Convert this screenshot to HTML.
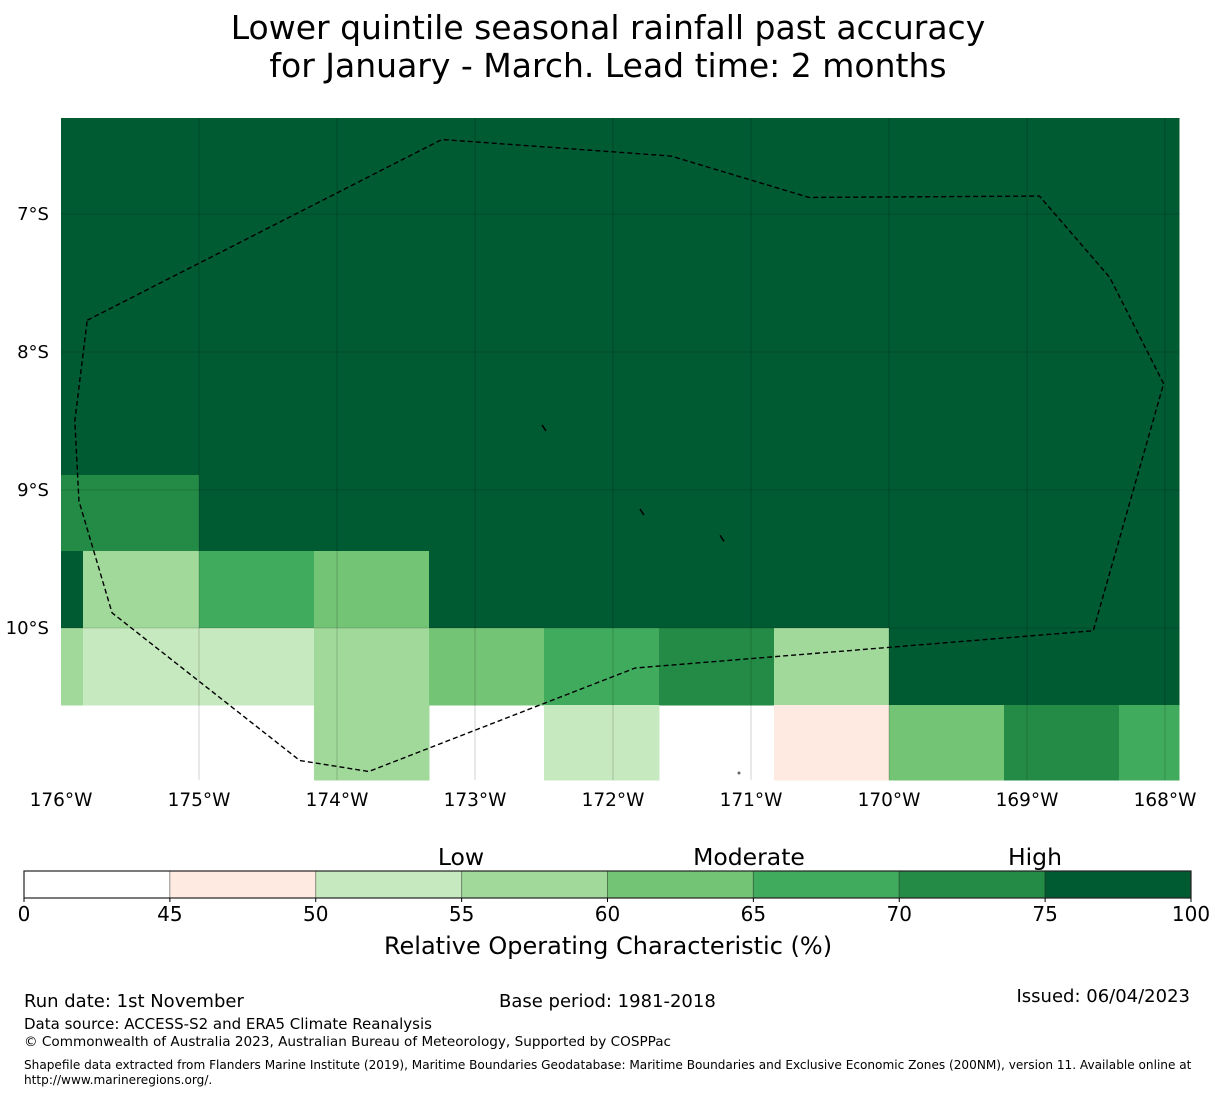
<!DOCTYPE html>
<html><head><meta charset="utf-8"><style>
body{margin:0;background:#fff;font-family:"DejaVu Sans","Liberation Sans",sans-serif;}
svg text{font-family:"DejaVu Sans","Liberation Sans",sans-serif;}
</style></head><body>
<svg id="c" width="1215" height="1095" xmlns="http://www.w3.org/2000/svg">
<text x="608" y="39" font-size="33" text-anchor="middle">Lower quintile seasonal rainfall past accuracy</text>
<text x="608" y="77" font-size="33" text-anchor="middle">for January - March. Lead time: 2 months</text>
<g id="map"></g>
<g id="cbar"></g>
<text x="608" y="954" font-size="24" text-anchor="middle">Relative Operating Characteristic (%)</text>
<text x="24" y="1007" font-size="18">Run date: 1st November</text>
<text x="499" y="1007" font-size="18">Base period: 1981-2018</text>
<text x="1190" y="1002" font-size="18" text-anchor="end">Issued: 06/04/2023</text>
<text x="24" y="1029" font-size="15">Data source: ACCESS-S2 and ERA5 Climate Reanalysis</text>
<text x="24" y="1046" font-size="13.6">© Commonwealth of Australia 2023, Australian Bureau of Meteorology, Supported by COSPPac</text>
<text x="24" y="1069" font-size="12.1">Shapefile data extracted from Flanders Marine Institute (2019), Maritime Boundaries Geodatabase: Maritime Boundaries and Exclusive Economic Zones (200NM), version 11. Available online at</text>
<text x="24" y="1084" font-size="12.1">http://www.marineregions.org/.</text>
</svg>
<script>
const NS="http://www.w3.org/2000/svg";
// colour classes (ROC bins)
const binEdges=[0,45,50,55,60,65,70,75,100];
const binColors=["#ffffff","#feeae0","#c7e9c0","#a1d99b","#74c476","#41ab5d","#238b45","#005a32"];
const categoryLabels=["Low","Moderate","High"];
const categoryPos=[55,65,75];
// grid cells: lon west edges (°W) and lat rows (°S top); values are ROC %
const colLonW=[176,175.84,175,174.17,173.33,172.5,171.67,170.83,170,169.17,168.33];
const colLonE=[175.84,175,174.17,173.33,172.5,171.67,170.83,170,169.17,168.33,167.9];
const rowLatTop=[6.3,8.89,9.44,10.0,10.56];
const rowLatBot=[8.89,9.44,10.0,10.56,11.1];
const rowVals=[
 [80,80,80,80,80,80,80,80,80,80,80],
 [72,72,80,80,80,80,80,80,80,80,80],
 [80,57,67,62,80,80,80,80,80,80,80],
 [57,52,52,57,62,67,72,57,80,80,80],
 [null,null,null,57,null,52,null,47,62,72,67]
];
const lonTicks=[176,175,174,173,172,171,170,169,168];
const latTicks=[7,8,9,10];
const eezLon=[175.81,173.24,171.58,170.58,168.91,168.4,168.01,168.52,171.84,173.77,174.27,175.63,175.87,175.9,175.81];
const eezLat=[7.77,6.46,6.58,6.88,6.87,7.46,8.23,10.02,10.29,11.04,10.96,9.89,9.08,8.5,7.77];
const islands=[[172.5,8.55],[171.79,9.16],[171.21,9.35]];

const x0=61,x1=1179,yTop=118,yBot=780;
const sx=lon=>61+(176-lon)*138;
const sy=lat=>214+(lat-7)*138;
const colorOf=v=>{for(let i=0;i<binEdges.length-1;i++){if(v>=binEdges[i]&&v<binEdges[i+1])return binColors[i];}return binColors[binColors.length-1];};
const map=document.getElementById('map');
function mk(tag,attrs,parent){const e=document.createElementNS(NS,tag);for(const k in attrs)e.setAttribute(k,attrs[k]);parent.appendChild(e);return e;}
rowVals.forEach((row,ri)=>{row.forEach((v,ci)=>{
  if(v===null)return;
  const xa=Math.round(Math.max(x0,sx(colLonW[ci]))),xb=Math.round(Math.min(x1,sx(colLonE[ci])));
  const ya=Math.round(Math.max(yTop,sy(rowLatTop[ri]))),yb=Math.round(Math.min(yBot,sy(rowLatBot[ri])));
  const r=mk('rect',{x:xa,y:ya,width:xb-xa+0.5,height:yb-ya+0.5,fill:colorOf(v),'shape-rendering':'crispEdges'},map);
  
  
});});
lonTicks.forEach(l=>{
  const x=sx(l);
  if(x>x0&&x<x1){const g=mk('line',{x1:x,y1:yTop,x2:x,y2:yBot,stroke:'#000','stroke-opacity':0.3,'stroke-width':0.6},map);
  }
  const t=mk('text',{x:x,y:806,'font-size':18.5,'text-anchor':'middle'},map);t.textContent=l+'°W';
  
});
latTicks.forEach(l=>{
  const y=sy(l);
  const g=mk('line',{x1:x0,y1:y,x2:x1,y2:y,stroke:'#000','stroke-opacity':0.3,'stroke-width':0.6},map);
  
  const t=mk('text',{x:49,y:y+6,'font-size':18,'text-anchor':'end'},map);t.textContent=l+'°S';
  
});
const pts=eezLon.map((l,i)=>sx(l)+','+sy(eezLat[i])).join(' ');
const eez=mk('polyline',{points:pts,fill:'none',stroke:'#000','stroke-width':1.4,'stroke-dasharray':'5,3'},map);

islands.forEach(p=>{const x=sx(p[0]),y=sy(p[1]);
  const il=mk('line',{x1:x-2,y1:y-3,x2:x+2,y2:y+3,stroke:'#000','stroke-width':1.5},map);
  });
const dot=mk('circle',{cx:739,cy:773,r:1.5,fill:'#666'},map);


// colorbar
const cb=document.getElementById('cbar');
const cbX=24,cbW=1167,cbY=871,cbH=27,n=binColors.length,segW=cbW/n;
binColors.forEach((c,i)=>{
  const r=mk('rect',{x:cbX+i*segW,y:cbY,width:segW,height:cbH,fill:c,stroke:'#000','stroke-opacity':0.3,'stroke-width':1},cb);
  
});
mk('rect',{x:cbX,y:cbY,width:cbW,height:cbH,fill:'none',stroke:'#222','stroke-width':1.2},cb);
binEdges.forEach((e,i)=>{
  const x=cbX+i*segW;
  mk('line',{x1:x,y1:cbY+cbH,x2:x,y2:cbY+cbH+4,stroke:'#000'},cb);
  const t=mk('text',{x:x,y:921,'font-size':20,'text-anchor':'middle'},cb);t.textContent=e;
  
});
const catX=[461,749,1035];
categoryLabels.forEach((s,i)=>{
  const t=mk('text',{x:catX[i],y:865,'font-size':23.5,'text-anchor':'middle'},cb);t.textContent=s;
  
});
</script>
</body></html>
